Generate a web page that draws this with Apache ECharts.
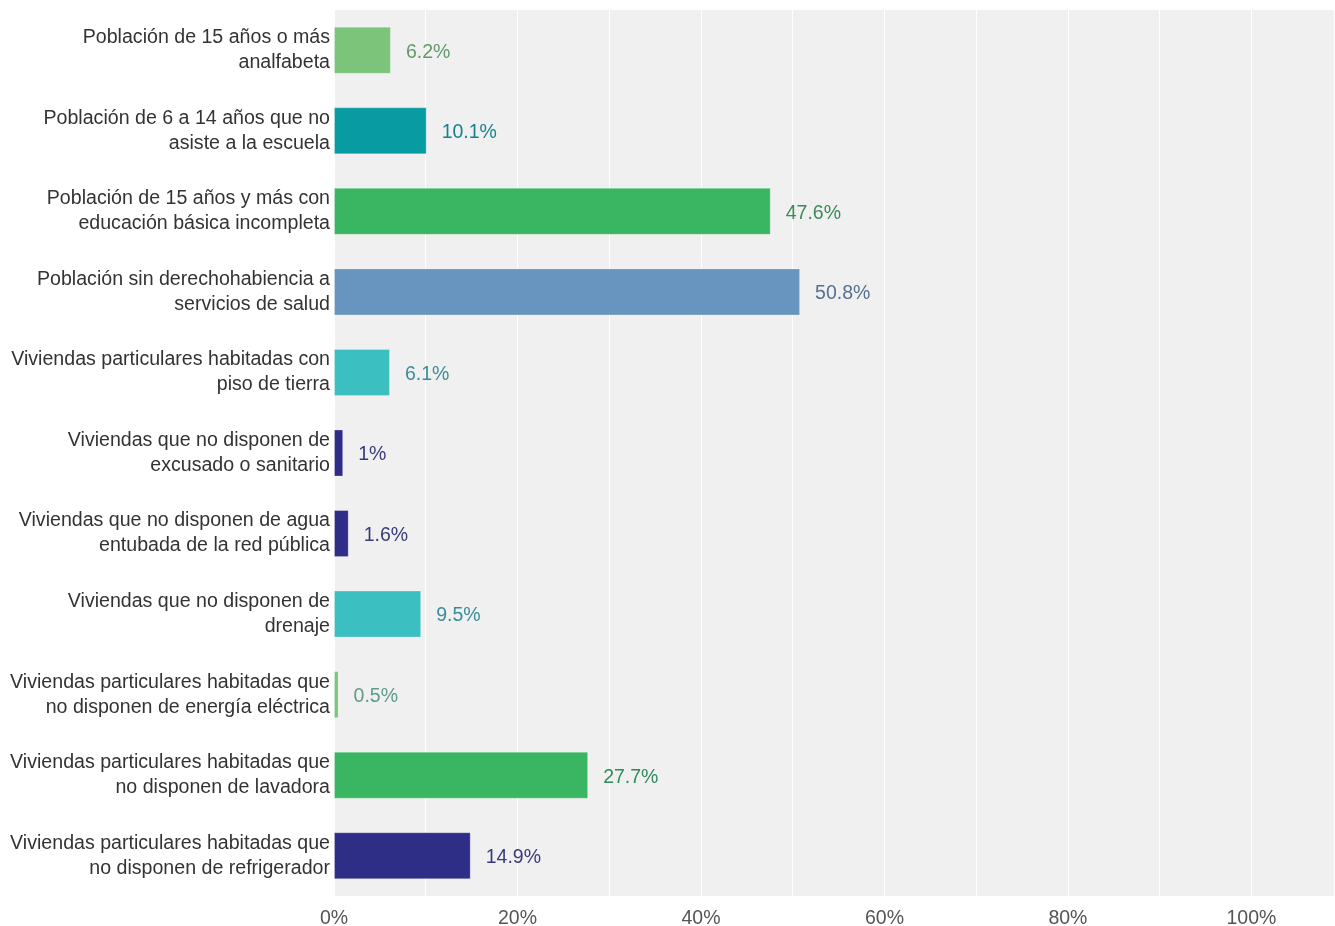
<!DOCTYPE html>
<html>
<head>
<meta charset="utf-8">
<script src="https://cdn.jsdelivr.net/npm/echarts@6/dist/echarts.min.js"></script>
<style>
  html, body { margin: 0; padding: 0; background: #ffffff; }
  #chart { width: 1335px; height: 926px; }
</style>
</head>
<body>
<div id="chart"></div>
<script>
// Indicadores de rezago social (porcentaje)
const categories = [
  'Población de 15 años o más\nanalfabeta',
  'Población de 6 a 14 años que no\nasiste a la escuela',
  'Población de 15 años y más con\neducación básica incompleta',
  'Población sin derechohabiencia a\nservicios de salud',
  'Viviendas particulares habitadas con\npiso de tierra',
  'Viviendas que no disponen de\nexcusado o sanitario',
  'Viviendas que no disponen de agua\nentubada de la red pública',
  'Viviendas que no disponen de\ndrenaje',
  'Viviendas particulares habitadas que\nno disponen de energía eléctrica',
  'Viviendas particulares habitadas que\nno disponen de lavadora',
  'Viviendas particulares habitadas que\nno disponen de refrigerador'
];
const values = [6.2, 10.1, 47.6, 50.8, 6.1, 1, 1.6, 9.5, 0.5, 27.7, 14.9];

const barColors = [
  '#7bc47a', '#089ba2', '#3ab662', '#6795bf', '#3bbfc0', '#2e2e87',
  '#2e2e87', '#3bbfc0', '#7bc47a', '#3ab662', '#2e2e87'
];
const labelColors = [
  '#5f9a6c', '#17828c', '#3a8b58', '#57708f', '#3a8c9a', '#3b3b7b',
  '#3b3b7b', '#3a8c9a', '#5f9a8a', '#2f8b5c', '#3b3b7b'
];

const valueTicks = [0, 20, 40, 60, 80, 100];

const chart = echarts.init(document.getElementById('chart'), null, { renderer: 'canvas' });

chart.setOption({
  animation: false,
  backgroundColor: '#ffffff',
  textStyle: { fontFamily: 'Liberation Sans, Arial, sans-serif' },
  grid: {
    left: 334, right: 1, top: 10, bottom: 30,
    outerBoundsMode: 'none',
    show: true, backgroundColor: '#f0f0f0', borderWidth: 0
  },
  xAxis: {
    type: 'value',
    min: 0, max: 109, interval: 10,
    axisLine: { show: false },
    axisTick: { show: false },
    splitLine: { show: true, lineStyle: { color: '#ffffff', width: 1 } },
    axisLabel: {
      color: '#555555', fontSize: 19.5, margin: 13,
      showMaxLabel: false,
      formatter: v => valueTicks.includes(v) ? v + '%' : ''
    }
  },
  yAxis: {
    type: 'category',
    inverse: true,
    data: categories,
    axisLine: { show: false },
    axisTick: { show: false },
    splitLine: { show: false },
    axisLabel: {
      color: '#333333', fontSize: 19.6, lineHeight: 25, margin: 4, align: 'right',
      padding: [4, 0, 0, 0]
    }
  },
  series: [{
    type: 'bar',
    barWidth: 47,
    data: values.map((v, i) => ({
      value: v,
      itemStyle: { color: barColors[i], borderColor: 'rgba(255,255,255,0.25)', borderWidth: 1 },
      label: { color: labelColors[i] }
    })),
    label: {
      show: true, position: 'right', distance: 15, fontSize: 19.5,
      offset: [0, 2],
      formatter: p => p.value + '%'
    }
  }]
});
</script>
</body>
</html>
